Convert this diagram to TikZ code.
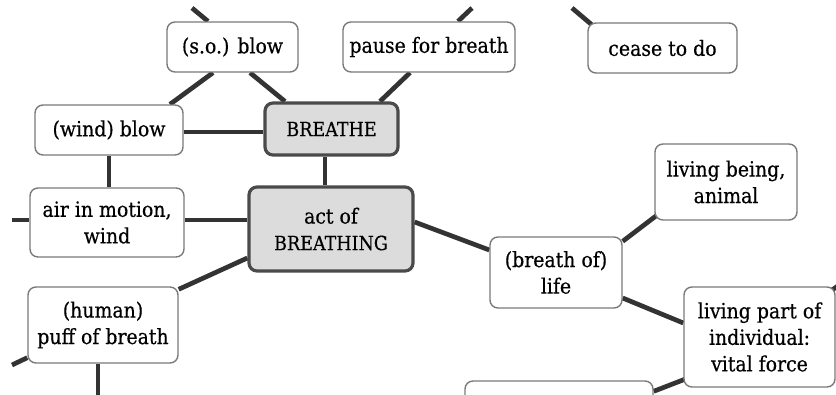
\documentclass[tikz,border=0pt]{standalone}
\usepackage{fontspec}
\setmainfont{DejaVu Serif Condensed}[FakeBold=0.4]
\usetikzlibrary{backgrounds}
\begin{document}
\begin{tikzpicture}[x=1pt,y=-1pt,
  box/.style={draw=boxgray,line width=1.4pt,fill=white,rounded corners=8pt,
    inner sep=0pt,align=center,font=\fontsize{21}{26.5}\selectfont},
  core/.style={box,draw=coregray,line width=3.2pt,fill=corefill},
  link/.style={draw=linkgray,line width=4.7pt}]
\definecolor{boxgray}{HTML}{7A7A7A}
\definecolor{coregray}{HTML}{4A4A4A}
\definecolor{corefill}{HTML}{DCDCDC}
\definecolor{linkgray}{HTML}{333333}
\path[use as bounding box] (0,0) rectangle (836,395);
\clip (0,0) rectangle (836,395);

\node[box,minimum width=131pt,minimum height=50pt] (sob) at (232.5,47) {(s.o.) blow};
\node[box,minimum width=172pt,minimum height=50pt] (pause) at (429,47) {pause for breath};
\node[box,minimum width=149pt,minimum height=50pt] (cease) at (662.5,48) {cease to do};
\node[box,minimum width=148pt,minimum height=50pt] (wind) at (109,130) {(wind) blow};
\node[core,minimum width=133pt,minimum height=52pt] (breathe) at (331.5,129) {\fontsize{19.5}{26}\selectfont BREATHE};
\node[box,minimum width=154pt,minimum height=69pt] (air) at (107,222.5) {air in motion,\\wind};
\node[core,minimum width=164pt,minimum height=84pt] (act) at (331,229) {act of\\{\fontsize{19.5}{28}\selectfont BREATHING}};
\node[box,minimum width=150pt,minimum height=76pt] (human) at (103,325) {(human)\\puff of breath};
\node[box,minimum width=132pt,minimum height=71pt] (life) at (556,272.5) {(breath of)\\life};
\node[box,minimum width=142pt,minimum height=76pt] (animal) at (726,182) {living being,\\animal};
\node[box,minimum width=151pt,minimum height=100pt] (vital) at (759.5,337) {living part of\\individual:\\vital force};
\node[box,minimum width=188pt,minimum height=40pt] (lower) at (559,401) {};

\coordinate (t1) at (192,8);
\coordinate (t2) at (472,8);
\coordinate (t3) at (572,8);
\coordinate (l1) at (12,220);
\coordinate (l2) at (12,365);
\coordinate (b1) at (98,400);
\coordinate (r1) at (842,283);

\begin{scope}[on background layer]
\path[link] (t1) -- ([xshift=-24.5pt]sob.north);
\path[link] (t2) -- ([xshift=29pt]pause.north);
\path[link] (t3) -- ([xshift=4pt,yshift=-2pt]cease.north west);
\path[link] ([xshift=-19.5pt]sob.south) -- ([xshift=61pt]wind.north);
\path[link] ([xshift=17.5pt]sob.south) -- ([xshift=-46.5pt]breathe.north);
\path[link] ([xshift=-19pt]pause.south) -- ([xshift=48.5pt]breathe.north);
\path[link] ([yshift=-2pt]wind.east) -- ([yshift=-2pt]wind.east -| breathe.west);
\path[link] (wind.south) -- (wind.south |- air.north);
\path[link] ([xshift=-6.5pt]breathe.south) -- ([xshift=-6.5pt]breathe.south |- act.north);
\path[link] (l1) -- (l1 -| air.west);
\path[link] ([yshift=2.5pt]air.east) -- ([yshift=2.5pt]air.east -| act.west);
\path[link] ([yshift=-29pt]act.west) -- ([yshift=-3pt]human.north east);
\path[link] (l2) -- ([yshift=6pt]human.south west);
\path[link] ([xshift=-5pt]human.south) -- (b1);
\path[link] ([yshift=7pt]act.east) -- ([yshift=22.5pt]life.west);
\path[link] ([yshift=-5pt]life.north east) -- ([xshift=2pt,yshift=5pt]animal.south west);
\path[link] ([yshift=-25.5pt]life.east) -- ([yshift=14pt]vital.west);
\path[link] ([xshift=3pt,yshift=9pt]vital.south west) -- ([yshift=-11pt]lower.north east);
\path[link] (r1) -- ([xshift=-4pt,yshift=-4pt]vital.north east);
\end{scope}
\end{tikzpicture}
\end{document}
